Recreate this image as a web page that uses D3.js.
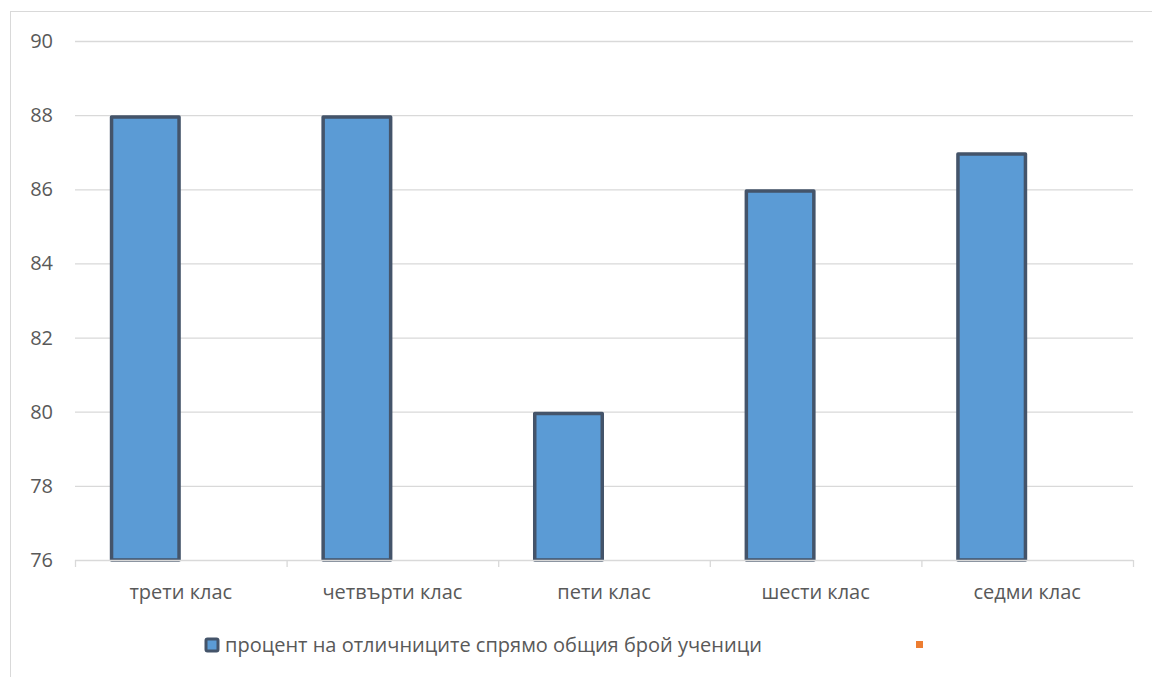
<!DOCTYPE html>
<html><head><meta charset="utf-8">
<script src="https://cdn.jsdelivr.net/npm/d3@7"></script>
<style>body{margin:0;background:#fff}svg{display:block}text{font-family:"Open Sans","Noto Sans",sans-serif;fill:#595959}</style>
</head><body><svg id="c" width="1152" height="677"></svg>
<script>
const categories = ["трети клас","четвърти клас","пети клас","шести клас","седми клас"];
const values = [88, 88, 80, 86, 87];
const yTicks = [76, 78, 80, 82, 84, 86, 88, 90];
const seriesNames = ["процент на отличниците спрямо общия брой ученици", ""];

const svg = d3.select("#c");
const W = 1152, H = 677;
const m = {left: 75, right: 1133, top: 41, bottom: 560};
const FS = 20;

svg.append("rect").attr("x",10.5).attr("y",11.5).attr("width",W).attr("height",H)
  .attr("fill","none").attr("stroke","#d9d9d9").attr("stroke-width",1);

const x = d3.scaleBand().domain(categories).range([m.left, m.right]).paddingInner(0).paddingOuter(0);
const xs = d3.scaleBand().domain([0,1]).range([0, x.bandwidth()]).paddingInner(0).paddingOuter(0.49);
const y = d3.scaleLinear().domain([76, 90]).range([m.bottom, m.top]);

// gridlines
svg.append("g").selectAll("line").data(yTicks.filter(d=>d!==76)).join("line")
  .attr("x1", m.left).attr("x2", m.right)
  .attr("y1", d=>y(d)+0.5).attr("y2", d=>y(d)+0.5)
  .attr("stroke","#d9d9d9").attr("stroke-width",1.3);

// y labels
svg.append("g").selectAll("text").data(yTicks).join("text")
  .attr("x", 53).attr("y", d=>y(d)).attr("dy","0.35em")
  .attr("text-anchor","end").attr("font-size",FS).text(d=>d);

// bars
svg.append("g").selectAll("rect").data(values).join("rect")
  .attr("x",(d,i)=>x(categories[i])+xs(0)+1.75)
  .attr("width", xs.bandwidth()-3.5)
  .attr("y", d=>y(d)+1.75)
  .attr("height", d=>y(76)-y(d)-1.75)
  .attr("fill","#5b9bd5").attr("stroke","#44546a").attr("stroke-width",3.5)
  .attr("stroke-linejoin","round");

// x axis
const xa = svg.append("g");
xa.append("line").attr("x1",m.left).attr("x2",m.right).attr("y1",y(76)+0.5).attr("y2",y(76)+0.5)
  .attr("stroke","#d9d9d9").attr("stroke-width",1.3);
const bounds = categories.map(c=>x(c)).concat([m.right]);
xa.selectAll("line.tk").data(bounds).join("line").attr("class","tk")
  .attr("x1",d=>d+0.5).attr("x2",d=>d+0.5).attr("y1",y(76)).attr("y2",y(76)+7)
  .attr("stroke","#d9d9d9").attr("stroke-width",1.3);
xa.selectAll("text").data(categories).join("text")
  .attr("x",d=>x(d)+x.bandwidth()/2).attr("y",592).attr("dy","0.35em")
  .attr("text-anchor","middle").attr("font-size",FS).text(d=>d);

// legend
const lg = svg.append("g");
lg.append("rect").attr("x",206).attr("y",639).attr("width",12).attr("height",12).attr("rx",1.5)
  .attr("fill","#5b9bd5").attr("stroke","#44546a").attr("stroke-width",3);
lg.append("text").attr("x",225).attr("y",645).attr("dy","0.35em").attr("font-size",FS).text(seriesNames[0]);
lg.append("rect").attr("x",916).attr("y",641).attr("width",7).attr("height",7).attr("fill","#ed7d31");
</script></body></html>
